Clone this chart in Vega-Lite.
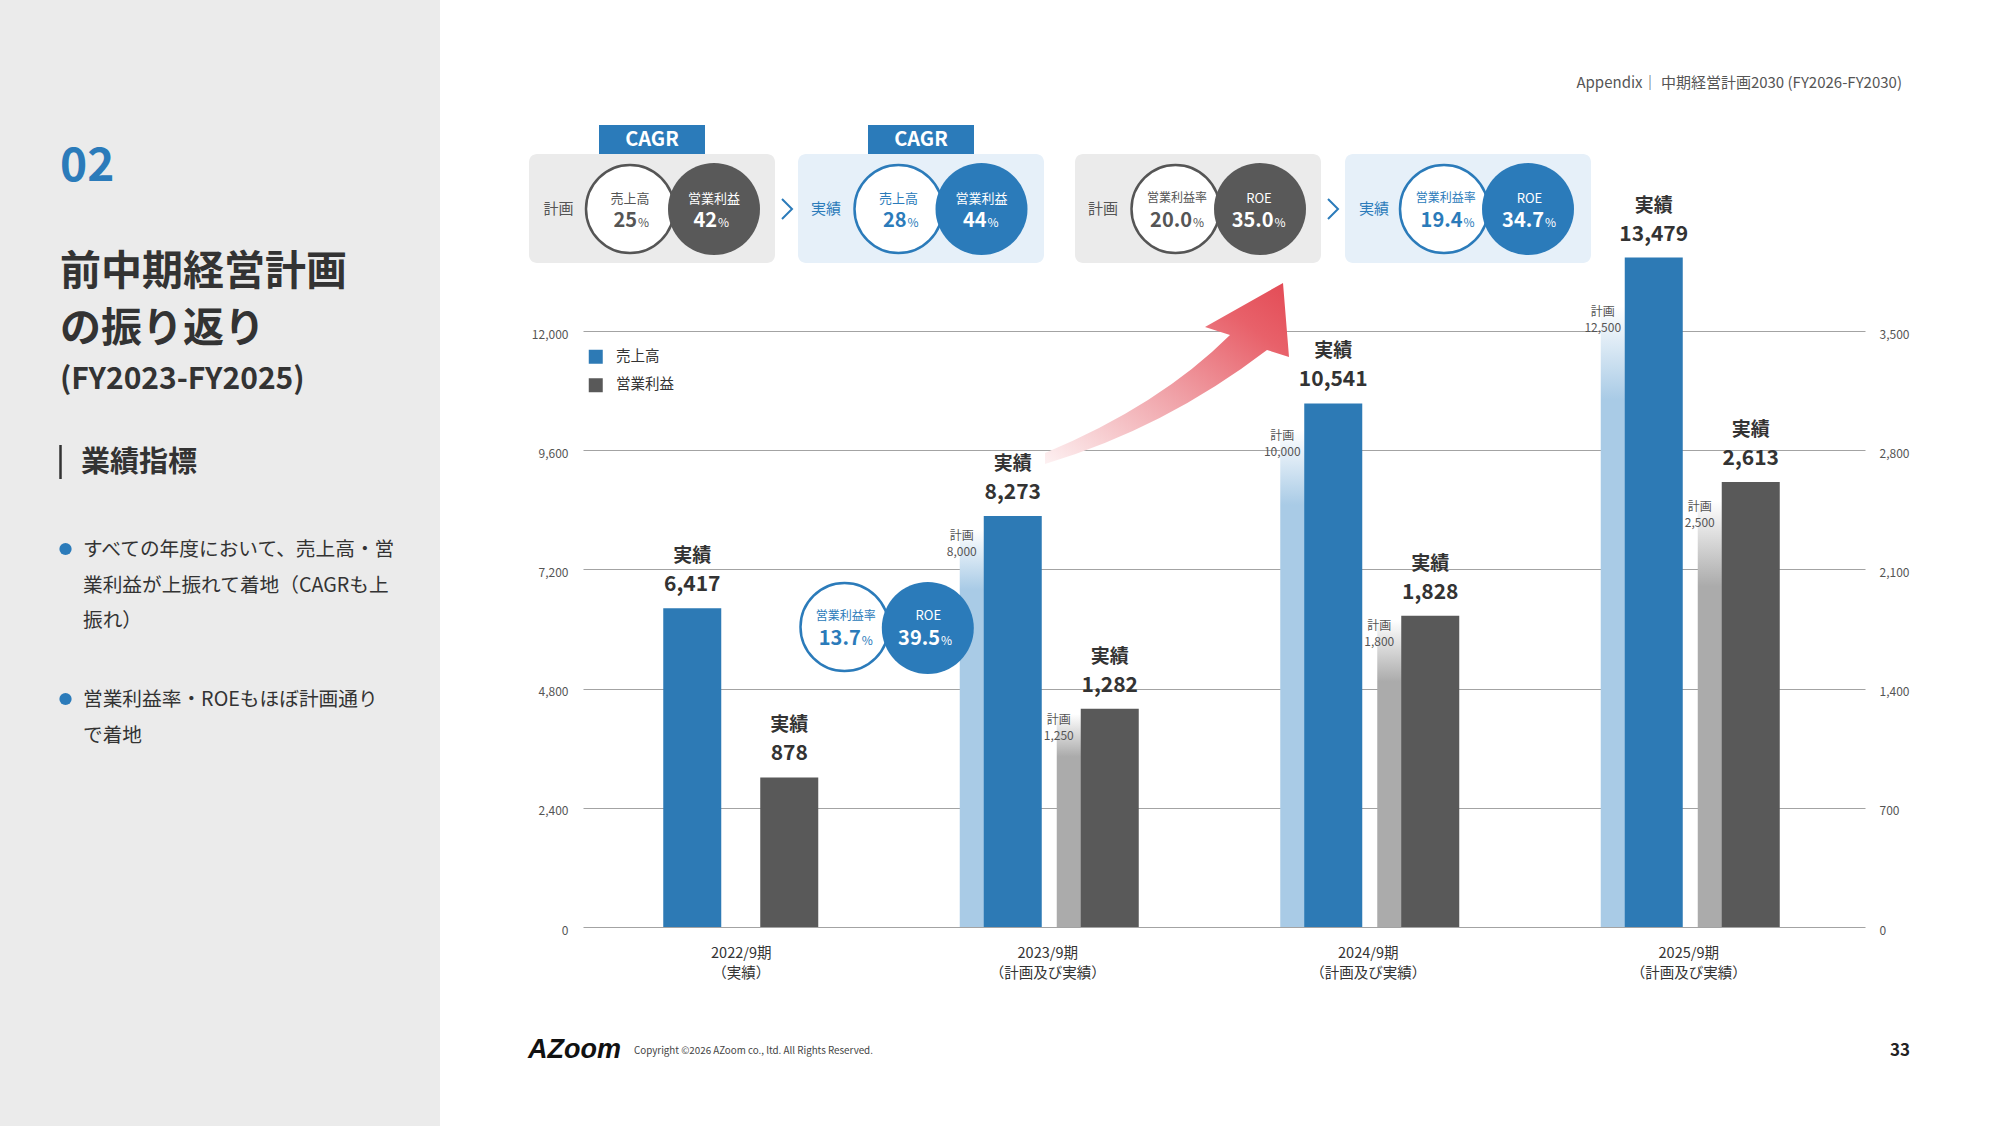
{
  "$schema": "https://vega.github.io/schema/vega-lite/v6.json",
  "width": 1282,
  "height": 596,
  "autosize": {"type": "none"},
  "padding": {"left": 583, "top": 331, "right": 135, "bottom": 199},
  "background": "#ffffff",
  "config": {"font": "Noto Sans CJK JP", "view": {"stroke": null}},
  "datasets": {
    "fin": [
      {"period": "2022/9期", "metric": "売上高", "type": "実績", "value": 6417},
      {"period": "2023/9期", "metric": "売上高", "type": "計画", "value": 8000},
      {"period": "2023/9期", "metric": "売上高", "type": "実績", "value": 8273},
      {"period": "2024/9期", "metric": "売上高", "type": "計画", "value": 10000},
      {"period": "2024/9期", "metric": "売上高", "type": "実績", "value": 10541},
      {"period": "2025/9期", "metric": "売上高", "type": "計画", "value": 12500},
      {"period": "2025/9期", "metric": "売上高", "type": "実績", "value": 13479},
      {"period": "2022/9期", "metric": "営業利益", "type": "実績", "value": 878},
      {"period": "2023/9期", "metric": "営業利益", "type": "計画", "value": 1250},
      {"period": "2023/9期", "metric": "営業利益", "type": "実績", "value": 1282},
      {"period": "2024/9期", "metric": "営業利益", "type": "計画", "value": 1800},
      {"period": "2024/9期", "metric": "営業利益", "type": "実績", "value": 1828},
      {"period": "2025/9期", "metric": "営業利益", "type": "計画", "value": 2500},
      {"period": "2025/9期", "metric": "営業利益", "type": "実績", "value": 2613}
    ],
    "panel": [{"x": 0, "x2": 440, "y": 0, "y2": 1126}],
    "boxes": [
      {"kind": "plan", "x": 529, "x2": 775, "y": 154, "y2": 263},
      {"kind": "plan", "x": 1075, "x2": 1321, "y": 154, "y2": 263},
      {"kind": "actual", "x": 798, "x2": 1044, "y": 154, "y2": 263},
      {"kind": "actual", "x": 1345, "x2": 1591, "y": 154, "y2": 263},
      {"kind": "tab", "x": 599, "x2": 705, "y": 125, "y2": 154},
      {"kind": "tab", "x": 868, "x2": 974, "y": 125, "y2": 154}
    ],
    "arrow": [{"x": 1170, "y": 390}],
    "bar": [{"x": 60.5, "y": 445, "y2": 479}],
    "dots": [{"x": 65.5, "y": 549}, {"x": 65.5, "y": 699}],
    "chev": [{"x": 787, "y": 209}, {"x": 1333, "y": 209}],
    "rings": [
      {"side": "plan", "x": 630, "y": 209},
      {"side": "actual", "x": 898.5, "y": 209},
      {"side": "plan", "x": 1175.5, "y": 209},
      {"side": "actual", "x": 1444, "y": 209},
      {"side": "actual", "x": 844.5, "y": 627}
    ],
    "discs": [
      {"side": "plan", "x": 714, "y": 209},
      {"side": "actual", "x": 981.5, "y": 209},
      {"side": "plan", "x": 1260, "y": 209},
      {"side": "actual", "x": 1528, "y": 209},
      {"side": "actual", "x": 927.8, "y": 628}
    ],
    "notes": [
      {"role": "num", "t": "02", "x": 60, "y": 167},
      {"role": "head", "t": "前中期経営計画", "x": 60, "y": 273},
      {"role": "head", "t": "の振り返り", "x": 60, "y": 330},
      {"role": "headsub", "t": "(FY2023-FY2025)", "x": 60, "y": 380},
      {"role": "section", "t": "業績指標", "x": 81, "y": 463},
      {"role": "bullet", "t": "すべての年度において、売上高・営", "x": 83, "y": 550},
      {"role": "bullet", "t": "業利益が上振れて着地（CAGRも上", "x": 83, "y": 586},
      {"role": "bullet", "t": "振れ）", "x": 83, "y": 621},
      {"role": "bullet", "t": "営業利益率・ROEもほぼ計画通り", "x": 83, "y": 700},
      {"role": "bullet", "t": "で着地", "x": 83, "y": 736},
      {"role": "header", "t": "Appendix｜ 中期経営計画2030 (FY2026-FY2030)", "x": 1902, "y": 83},
      {"role": "copy", "t": "Copyright ©2026 AZoom co., ltd. All Rights Reserved.", "x": 634, "y": 1051},
      {"role": "page", "t": "33", "x": 1910, "y": 1051},
      {"role": "logo", "t": "AZoom", "x": 528, "y": 1050},
      {"role": "cagr", "t": "CAGR", "x": 652, "y": 140},
      {"role": "cagr", "t": "CAGR", "x": 921, "y": 140},
      {"role": "box", "tone": "plan", "t": "計画", "x": 558.5, "y": 209},
      {"role": "box", "tone": "actual", "t": "実績", "x": 826, "y": 209},
      {"role": "box", "tone": "plan", "t": "計画", "x": 1103, "y": 209},
      {"role": "box", "tone": "actual", "t": "実績", "x": 1374, "y": 209},
      {"role": "clabel", "tone": "plan", "t": "売上高", "x": 630, "y": 199},
      {"role": "clabel", "tone": "inverse", "t": "営業利益", "x": 714, "y": 199},
      {"role": "clabel", "tone": "actual", "t": "売上高", "x": 898.5, "y": 199},
      {"role": "clabel", "tone": "inverse", "t": "営業利益", "x": 981.5, "y": 199},
      {"role": "clabel", "tone": "inverse", "t": "ROE", "x": 1259, "y": 199},
      {"role": "clabel", "tone": "inverse", "t": "ROE", "x": 1529.5, "y": 199},
      {"role": "clabel", "tone": "inverse", "t": "ROE", "x": 928.3, "y": 616},
      {"role": "clabels", "tone": "plan", "t": "営業利益率", "x": 1177, "y": 198},
      {"role": "clabels", "tone": "actual", "t": "営業利益率", "x": 1445.7, "y": 198},
      {"role": "clabels", "tone": "actual", "t": "営業利益率", "x": 845.8, "y": 616},
      {"role": "cval", "tone": "plan", "t": "25", "x": 637, "y": 227},
      {"role": "cval", "tone": "inverse", "t": "42", "x": 717, "y": 227},
      {"role": "cval", "tone": "actual", "t": "28", "x": 906.5, "y": 227},
      {"role": "cval", "tone": "inverse", "t": "44", "x": 986.6, "y": 227},
      {"role": "cval", "tone": "plan", "t": "20.0", "x": 1192, "y": 227},
      {"role": "cval", "tone": "inverse", "t": "35.0", "x": 1273.6, "y": 227},
      {"role": "cval", "tone": "actual", "t": "19.4", "x": 1462.5, "y": 227},
      {"role": "cval", "tone": "inverse", "t": "34.7", "x": 1544, "y": 227},
      {"role": "cval", "tone": "actual", "t": "13.7", "x": 860.7, "y": 645},
      {"role": "cval", "tone": "inverse", "t": "39.5", "x": 940, "y": 645},
      {"role": "pct", "tone": "plan", "t": "%", "x": 638, "y": 227},
      {"role": "pct", "tone": "inverse", "t": "%", "x": 718, "y": 227},
      {"role": "pct", "tone": "actual", "t": "%", "x": 907.5, "y": 227},
      {"role": "pct", "tone": "inverse", "t": "%", "x": 987.6, "y": 227},
      {"role": "pct", "tone": "plan", "t": "%", "x": 1193, "y": 227},
      {"role": "pct", "tone": "inverse", "t": "%", "x": 1274.6, "y": 227},
      {"role": "pct", "tone": "actual", "t": "%", "x": 1463.5, "y": 227},
      {"role": "pct", "tone": "inverse", "t": "%", "x": 1545, "y": 227},
      {"role": "pct", "tone": "actual", "t": "%", "x": 861.7, "y": 645},
      {"role": "pct", "tone": "inverse", "t": "%", "x": 941, "y": 645}
    ]
  },
  "resolve": {"scale": {"x": "independent", "y": "independent", "color": "independent", "fill": "independent", "stroke": "independent"}},
  "layer": [
    {
      "encoding": {
        "x": {"field": "x", "type": "quantitative", "scale": {"domain": [583, 1865], "nice": false, "zero": false}, "axis": null},
        "y": {"field": "y", "type": "quantitative", "scale": {"domain": [331, 927], "nice": false, "zero": false, "reverse": true}, "axis": null}
      },
      "layer": [
        {"data": {"name": "panel"}, "mark": {"type": "rect", "color": "#ebebeb"}, "encoding": {"x2": {"field": "x2"}, "y2": {"field": "y2"}}},
        {"data": {"name": "boxes"}, "transform": [{"filter": "datum.kind === 'plan'"}], "mark": {"type": "rect", "color": "#ebebeb", "cornerRadius": 8}, "encoding": {"x2": {"field": "x2"}, "y2": {"field": "y2"}}},
        {"data": {"name": "boxes"}, "transform": [{"filter": "datum.kind === 'actual'"}], "mark": {"type": "rect", "color": "#e6f0f9", "cornerRadius": 8}, "encoding": {"x2": {"field": "x2"}, "y2": {"field": "y2"}}},
        {"data": {"name": "boxes"}, "transform": [{"filter": "datum.kind === 'tab'"}], "mark": {"type": "rect", "color": "#2b7bba"}, "encoding": {"x2": {"field": "x2"}, "y2": {"field": "y2"}}},
        {"data": {"name": "arrow"}, "mark": {"type": "point", "shape": "M -125 63 Q -10 15 60 -55 L 35 -63 L 113 -107 L 119 -33 L 97 -40 Q -5 38 -125 74 Z", "size": 4, "filled": true, "opacity": 1, "strokeWidth": 0,
          "fill": {"gradient": "linear", "x1": 0, "y1": 1, "x2": 1, "y2": 0, "stops": [{"offset": 0, "color": "#fdf1f2"}, {"offset": 0.45, "color": "#f0a2a8"}, {"offset": 0.8, "color": "#e8616a"}, {"offset": 1, "color": "#e34b55"}]}}}
      ]
    },
    {
      "data": {"name": "fin"},
      "encoding": {
        "x": {"field": "period", "type": "nominal", "title": null,
          "scale": {"domain": ["2022/9期", "2023/9期", "2024/9期", "2025/9期"], "paddingInner": 0, "paddingOuter": 0},
          "axis": {"labelAngle": 0, "ticks": false, "tickSize": 0, "domain": false, "grid": false, "labelFontSize": 14.5, "labelColor": "#333333", "labelPadding": 19, "labelLineHeight": 20,
            "labelExpr": "[datum.label, datum.label === '2022/9期' ? '（実績）' : '（計画及び実績）']",
            "labelOffset": {"condition": {"test": "datum.label === '2022/9期'", "value": -2}, "value": -16}}}
      },
      "resolve": {"scale": {"y": "independent"}},
      "layer": [
        {
          "transform": [{"filter": "datum.metric === '売上高'"}],
          "encoding": {"y": {"field": "value", "type": "quantitative", "title": null, "scale": {"domain": [0, 12000], "nice": false},
            "axis": {"orient": "left", "values": [0, 2400, 4800, 7200, 9600, 12000], "labelExpr": "format(datum.value, ',')", "ticks": false, "domain": false, "grid": true, "gridColor": "#a3a3a3", "gridWidth": 1, "labelFontSize": 12, "labelColor": "#555555", "labelPadding": 15, "labelOffset": 3}}},
          "layer": [
            {"transform": [{"filter": "datum.type === '計画'"}], "mark": {"type": "bar", "width": 26, "xOffset": -91,
              "fill": {"gradient": "linear", "x1": 0, "y1": 0, "x2": 0, "y2": 1, "stops": [{"offset": 0, "color": "#ffffff"}, {"offset": 0.15, "color": "#a9cbe6"}, {"offset": 1, "color": "#a9cbe6"}]}}},
            {"transform": [{"filter": "datum.type === '実績'"}], "mark": {"type": "bar", "width": 58, "xOffset": -51},
              "encoding": {"color": {"field": "metric", "type": "nominal", "title": null, "scale": {"domain": ["売上高", "営業利益"], "range": ["#2d7ab5", "#595959"]},
                "legend": {"orient": "none", "legendX": 5.5, "legendY": 18.5, "title": null, "symbolType": "square", "symbolSize": 196, "symbolStrokeWidth": 0, "labelFontSize": 14.5, "labelColor": "#333333", "rowPadding": 12.5, "labelOffset": 13, "padding": 0}}}},
            {"transform": [{"filter": "datum.type === '実績'"}], "mark": {"type": "text", "xOffset": -51, "dy": -52, "fontSize": 19, "fontWeight": "bold", "color": "#333333"}, "encoding": {"text": {"field": "type"}}},
            {"transform": [{"filter": "datum.type === '実績'"}], "mark": {"type": "text", "xOffset": -51, "dy": -23, "fontSize": 21, "fontWeight": "bold", "color": "#333333"}, "encoding": {"text": {"field": "value", "format": ","}}},
            {"transform": [{"filter": "datum.type === '計画'"}], "mark": {"type": "text", "xOffset": -102, "dy": 6, "fontSize": 12, "color": "#555555"}, "encoding": {"text": {"field": "type"}}},
            {"transform": [{"filter": "datum.type === '計画'"}], "mark": {"type": "text", "xOffset": -102, "dy": 22, "fontSize": 12, "color": "#555555"}, "encoding": {"text": {"field": "value", "format": ","}}}
          ]
        },
        {
          "transform": [{"filter": "datum.metric === '営業利益'"}],
          "encoding": {"y": {"field": "value", "type": "quantitative", "title": null, "scale": {"domain": [0, 3500], "nice": false},
            "axis": {"orient": "right", "values": [0, 700, 1400, 2100, 2800, 3500], "labelExpr": "format(datum.value, ',')", "ticks": false, "domain": false, "grid": false, "labelFontSize": 12, "labelColor": "#555555", "labelPadding": 14, "labelOffset": 3}}},
          "layer": [
            {"transform": [{"filter": "datum.type === '計画'"}], "mark": {"type": "bar", "width": 26, "xOffset": 6,
              "fill": {"gradient": "linear", "x1": 0, "y1": 0, "x2": 0, "y2": 1, "stops": [{"offset": 0, "color": "#ffffff"}, {"offset": 0.2, "color": "#ababab"}, {"offset": 1, "color": "#ababab"}]}}},
            {"transform": [{"filter": "datum.type === '実績'"}], "mark": {"type": "bar", "width": 58, "xOffset": 46},
              "encoding": {"color": {"field": "metric", "type": "nominal", "title": null, "scale": {"domain": ["売上高", "営業利益"], "range": ["#2d7ab5", "#595959"]}}}},
            {"transform": [{"filter": "datum.type === '実績'"}], "mark": {"type": "text", "xOffset": 46, "dy": -52, "fontSize": 19, "fontWeight": "bold", "color": "#333333"}, "encoding": {"text": {"field": "type"}}},
            {"transform": [{"filter": "datum.type === '実績'"}], "mark": {"type": "text", "xOffset": 46, "dy": -23, "fontSize": 21, "fontWeight": "bold", "color": "#333333"}, "encoding": {"text": {"field": "value", "format": ","}}},
            {"transform": [{"filter": "datum.type === '計画'"}], "mark": {"type": "text", "xOffset": -5, "dy": 6, "fontSize": 12, "color": "#555555"}, "encoding": {"text": {"field": "type"}}},
            {"transform": [{"filter": "datum.type === '計画'"}], "mark": {"type": "text", "xOffset": -5, "dy": 22, "fontSize": 12, "color": "#555555"}, "encoding": {"text": {"field": "value", "format": ","}}}
          ]
        }
      ]
    },
    {
      "encoding": {
        "x": {"field": "x", "type": "quantitative", "scale": {"domain": [583, 1865], "nice": false, "zero": false}, "axis": null},
        "y": {"field": "y", "type": "quantitative", "scale": {"domain": [331, 927], "nice": false, "zero": false, "reverse": true}, "axis": null}
      },
      "layer": [
        {"data": {"name": "bar"}, "mark": {"type": "rule", "color": "#333333", "strokeWidth": 2.5}, "encoding": {"y2": {"field": "y2"}}},
        {"data": {"name": "dots"}, "mark": {"type": "point", "shape": "circle", "filled": true, "color": "#2b7bba", "size": 150, "opacity": 1}},
        {"data": {"name": "chev"}, "mark": {"type": "point", "shape": "M -0.5 -1 L 0.5 0 L -0.5 1", "filled": false, "color": "#2b7bba", "strokeWidth": 2, "size": 400, "opacity": 1}},
        {"data": {"name": "rings"}, "mark": {"type": "point", "shape": "circle", "filled": true, "fill": "#ffffff", "strokeWidth": 2.5, "size": 7744, "opacity": 1},
          "encoding": {"stroke": {"field": "side", "type": "nominal", "scale": {"domain": ["plan", "actual"], "range": ["#555555", "#2b7bba"]}, "legend": null}}},
        {"data": {"name": "discs"}, "mark": {"type": "point", "shape": "circle", "filled": true, "size": 8464, "opacity": 1, "strokeWidth": 0},
          "encoding": {"fill": {"field": "side", "type": "nominal", "scale": {"domain": ["plan", "actual"], "range": ["#595959", "#2b7bba"]}, "legend": null}}},
        {"data": {"name": "notes"}, "transform": [{"filter": "datum.role === 'num'"}], "mark": {"type": "text", "align": "left", "baseline": "middle", "fontSize": 46, "fontWeight": "bold", "color": "#2b7bba"}, "encoding": {"text": {"field": "t"}}},
        {"data": {"name": "notes"}, "transform": [{"filter": "datum.role === 'head'"}], "mark": {"type": "text", "align": "left", "baseline": "middle", "fontSize": 41, "fontWeight": "bold", "color": "#333333"}, "encoding": {"text": {"field": "t"}}},
        {"data": {"name": "notes"}, "transform": [{"filter": "datum.role === 'headsub'"}], "mark": {"type": "text", "align": "left", "baseline": "middle", "fontSize": 30, "fontWeight": "bold", "color": "#333333"}, "encoding": {"text": {"field": "t"}}},
        {"data": {"name": "notes"}, "transform": [{"filter": "datum.role === 'section'"}], "mark": {"type": "text", "align": "left", "baseline": "middle", "fontSize": 29, "fontWeight": "bold", "color": "#333333"}, "encoding": {"text": {"field": "t"}}},
        {"data": {"name": "notes"}, "transform": [{"filter": "datum.role === 'bullet'"}], "mark": {"type": "text", "align": "left", "baseline": "middle", "fontSize": 19.7, "color": "#333333"}, "encoding": {"text": {"field": "t"}}},
        {"data": {"name": "notes"}, "transform": [{"filter": "datum.role === 'header'"}], "mark": {"type": "text", "align": "right", "baseline": "middle", "fontSize": 15, "color": "#555555"}, "encoding": {"text": {"field": "t"}}},
        {"data": {"name": "notes"}, "transform": [{"filter": "datum.role === 'copy'"}], "mark": {"type": "text", "align": "left", "baseline": "middle", "fontSize": 9.8, "color": "#444444"}, "encoding": {"text": {"field": "t"}}},
        {"data": {"name": "notes"}, "transform": [{"filter": "datum.role === 'page'"}], "mark": {"type": "text", "align": "right", "baseline": "middle", "fontSize": 17, "fontWeight": "bold", "color": "#222222"}, "encoding": {"text": {"field": "t"}}},
        {"data": {"name": "notes"}, "transform": [{"filter": "datum.role === 'logo'"}], "mark": {"type": "text", "align": "left", "baseline": "middle", "font": "Liberation Sans", "fontSize": 27, "fontWeight": "bold", "fontStyle": "italic", "color": "#111111"}, "encoding": {"text": {"field": "t"}}},
        {"data": {"name": "notes"}, "transform": [{"filter": "datum.role === 'cagr'"}], "mark": {"type": "text", "align": "center", "baseline": "middle", "fontSize": 20, "fontWeight": "bold", "color": "#ffffff"}, "encoding": {"text": {"field": "t"}}},
        {"data": {"name": "notes"}, "transform": [{"filter": "datum.role === 'box'"}], "mark": {"type": "text", "align": "center", "baseline": "middle", "fontSize": 15},
          "encoding": {"text": {"field": "t"}, "color": {"field": "tone", "type": "nominal", "scale": {"domain": ["plan", "actual", "inverse"], "range": ["#555555", "#2b7bba", "#ffffff"]}, "legend": null}}},
        {"data": {"name": "notes"}, "transform": [{"filter": "datum.role === 'clabel'"}], "mark": {"type": "text", "align": "center", "baseline": "middle", "fontSize": 13},
          "encoding": {"text": {"field": "t"}, "color": {"field": "tone", "type": "nominal", "scale": {"domain": ["plan", "actual", "inverse"], "range": ["#555555", "#2b7bba", "#ffffff"]}, "legend": null}}},
        {"data": {"name": "notes"}, "transform": [{"filter": "datum.role === 'clabels'"}], "mark": {"type": "text", "align": "center", "baseline": "middle", "fontSize": 12},
          "encoding": {"text": {"field": "t"}, "color": {"field": "tone", "type": "nominal", "scale": {"domain": ["plan", "actual", "inverse"], "range": ["#555555", "#2b7bba", "#ffffff"]}, "legend": null}}},
        {"data": {"name": "notes"}, "transform": [{"filter": "datum.role === 'cval'"}], "mark": {"type": "text", "align": "right", "baseline": "alphabetic", "fontSize": 20, "fontWeight": "bold"},
          "encoding": {"text": {"field": "t"}, "color": {"field": "tone", "type": "nominal", "scale": {"domain": ["plan", "actual", "inverse"], "range": ["#555555", "#2b7bba", "#ffffff"]}, "legend": null}}},
        {"data": {"name": "notes"}, "transform": [{"filter": "datum.role === 'pct'"}], "mark": {"type": "text", "align": "left", "baseline": "alphabetic", "fontSize": 12},
          "encoding": {"text": {"field": "t"}, "color": {"field": "tone", "type": "nominal", "scale": {"domain": ["plan", "actual", "inverse"], "range": ["#555555", "#2b7bba", "#ffffff"]}, "legend": null}}}
      ]
    }
  ]
}
